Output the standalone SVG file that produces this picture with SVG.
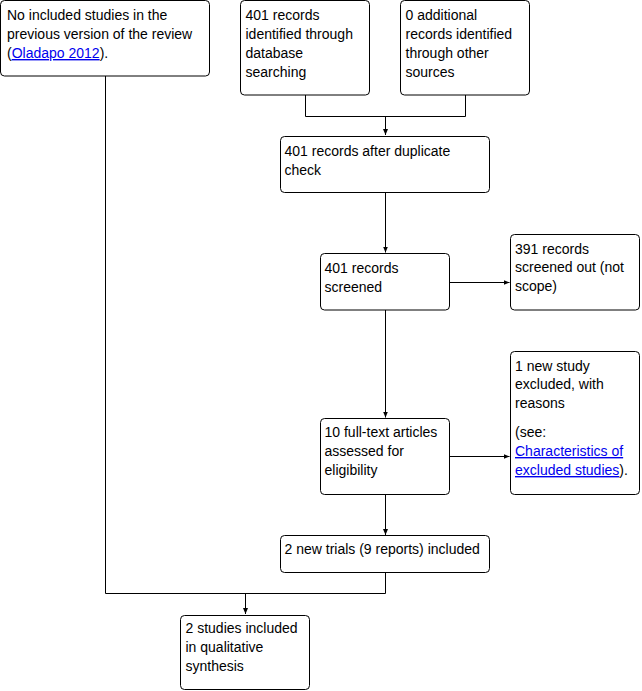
<svg xmlns="http://www.w3.org/2000/svg" width="642" height="691" viewBox="0 0 642 691">
<style>
.box{fill:#fff;stroke:#000;stroke-width:1}
text{font-family:"Liberation Sans",Arial,sans-serif;font-size:14px;fill:#000}
.lnk{fill:#0000ee;text-decoration:underline}
.c{fill:none;stroke:#000;stroke-width:1}
</style>
<defs>
<marker id="ah" markerWidth="8" markerHeight="8" refX="6" refY="4" orient="auto" markerUnits="userSpaceOnUse">
<path d="M0,1.5 L6,4 L0,6.5 Z" fill="#000"/>
</marker>
</defs>
<g id="connectors">
<path class="c" d="M305.5,95 V116.5 H465.5 V95"/>
<path class="c" d="M385.5,116.5 V135" marker-end="url(#ah)"/>
<path class="c" d="M385.5,193 V252.5" marker-end="url(#ah)"/>
<path class="c" d="M449.5,282.5 H509.5" marker-end="url(#ah)"/>
<path class="c" d="M385.5,310 V417.5" marker-end="url(#ah)"/>
<path class="c" d="M449.5,456.5 H509.5" marker-end="url(#ah)"/>
<path class="c" d="M385.5,494.5 V535" marker-end="url(#ah)"/>
<path class="c" d="M105.5,76 V593.5 H385.5 V573"/>
<path class="c" d="M245.5,593.5 V614" marker-end="url(#ah)"/>
</g>
<g id="prev">
<rect class="box" x="0.5" y="0.5" width="209" height="75.5" rx="4"/>
<text x="7" y="20">No included studies in the</text>
<text x="7" y="39">previous version of the review</text>
<text x="7" y="58">(<tspan class="lnk">Oladapo 2012</tspan>).</text>
</g>
<g id="db">
<rect class="box" x="240.5" y="0.5" width="129" height="94.5" rx="4"/>
<text x="245.5" y="20">401 records</text>
<text x="245.5" y="39">identified through</text>
<text x="245.5" y="58">database</text>
<text x="245.5" y="77">searching</text>
</g>
<g id="other">
<rect class="box" x="400.5" y="0.5" width="129" height="94.5" rx="4"/>
<text x="405.5" y="20">0 additional</text>
<text x="405.5" y="39">records identified</text>
<text x="405.5" y="58">through other</text>
<text x="405.5" y="77">sources</text>
</g>
<g id="dup">
<rect class="box" x="280.5" y="136.5" width="209" height="56" rx="4"/>
<text x="284.5" y="156">401 records after duplicate</text>
<text x="284.5" y="175">check</text>
</g>
<g id="screened">
<rect class="box" x="320.5" y="253.5" width="129" height="56.5" rx="4"/>
<text x="324.5" y="273">401 records</text>
<text x="324.5" y="292">screened</text>
</g>
<g id="out">
<rect class="box" x="510.5" y="234.5" width="129" height="75.5" rx="4"/>
<text x="515" y="254">391 records</text>
<text x="515" y="272">screened out (not</text>
<text x="515" y="291">scope)</text>
</g>
<g id="full">
<rect class="box" x="320.5" y="418.5" width="129" height="76" rx="4"/>
<text x="324.5" y="437">10 full-text articles</text>
<text x="324.5" y="456">assessed for</text>
<text x="324.5" y="475">eligibility</text>
</g>
<g id="excl">
<rect class="box" x="510.5" y="351.5" width="129" height="143" rx="4"/>
<text x="515" y="371">1 new study</text>
<text x="515" y="389">excluded, with</text>
<text x="515" y="408">reasons</text>
<text x="515" y="437">(see:</text>
<text x="515" y="456"><tspan class="lnk">Characteristics of</tspan></text>
<text x="515" y="475"><tspan class="lnk">excluded studies</tspan>).</text>
</g>
<g id="incl">
<rect class="box" x="280.5" y="535.5" width="209" height="37" rx="4"/>
<text x="284.5" y="554">2 new trials (9 reports) included</text>
</g>
<g id="qual">
<rect class="box" x="180.5" y="615.5" width="129" height="74" rx="4"/>
<text x="185.5" y="633">2 studies included</text>
<text x="185.5" y="652">in qualitative</text>
<text x="185.5" y="671">synthesis</text>
</g>
</svg>
